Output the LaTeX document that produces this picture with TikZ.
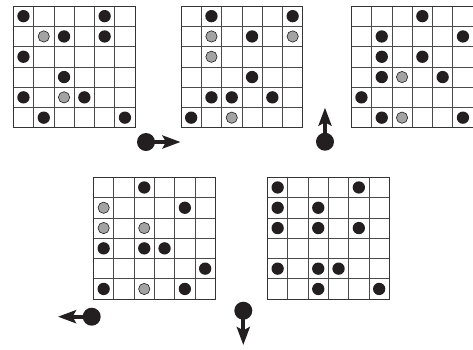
\documentclass[tikz,border=0pt]{standalone}
\usetikzlibrary{arrows.meta}
\definecolor{dotblack}{HTML}{231F20}
\definecolor{dotgray}{HTML}{A3A3A3}
\definecolor{gridcol}{HTML}{4A4A4A}
\tikzset{
  gridline/.style={draw=gridcol, line width=0.8pt},
  gridouter/.style={draw=gridcol!70!black, line width=1pt},
  bdot/.style={circle, fill=dotblack, inner sep=0pt, minimum size=12.3pt},
  gdot/.style={circle, fill=dotgray, draw=dotblack, line width=0.6pt, inner sep=0pt, minimum size=11.3pt},
  adot/.style={circle, fill=dotblack, inner sep=0pt, minimum size=18pt},
  movearrow/.style={draw=dotblack, line width=3.8pt, -{Stealth[length=18pt, width=13pt, inset=3.5pt]}, shorten <=-4pt},
}
\newcommand\boardat[3]{%
  \begin{scope}[shift={(#1pt,-#2pt)}, x=20.3pt, y=-20.3pt]
    \coordinate (#3) at (0,0);
    \foreach \ii in {1,...,5} {
      \draw[gridline] (\ii,0) -- (\ii,6);
      \draw[gridline] (0,\ii) -- (6,\ii);
    }
    \draw[gridouter] (0,0) rectangle (6,6);
  \end{scope}}
\newcommand\blackdots[3]{%
  \begin{scope}[shift={(#1pt,-#2pt)}, x=20.3pt, y=-20.3pt]
    \foreach \cc/\rr in {#3} { \node[bdot] at (\cc+0.5,\rr+0.5) {}; }
  \end{scope}}
\newcommand\graydots[3]{%
  \begin{scope}[shift={(#1pt,-#2pt)}, x=20.3pt, y=-20.3pt]
    \foreach \cc/\rr in {#3} { \node[gdot] at (\cc+0.5,\rr+0.5) {}; }
  \end{scope}}
\begin{document}
\begin{tikzpicture}[x=1pt, y=-1pt]
  \useasboundingbox (0,0) rectangle (473,349);
  \fill[white] (0,0) rectangle (473,349);
  % board 1
  \boardat{13.3}{6}{b1}
  \blackdots{13.3}{6}{0/0,4/0,2/1,4/1,0/2,2/3,0/4,3/4,1/5,5/5}
  \graydots{13.3}{6}{1/1,2/4}
  % board 2
  \boardat{181}{6}{b2}
  \blackdots{181}{6}{1/0,5/0,3/1,3/3,1/4,2/4,4/4,0/5}
  \graydots{181}{6}{1/1,5/1,1/2,2/5}
  % board 3
  \boardat{351.3}{6}{b3}
  \blackdots{351.3}{6}{3/0,1/1,5/1,1/2,3/2,1/3,4/3,0/4,1/5,5/5}
  \graydots{351.3}{6}{2/3,2/5}
  % board 4
  \boardat{93.5}{177.3}{b4}
  \blackdots{93.5}{177.3}{2/0,4/1,0/3,2/3,3/3,5/4,0/5,4/5}
  \graydots{93.5}{177.3}{0/1,0/2,2/2,2/5}
  % board 5
  \boardat{267.5}{177.3}{b5}
  \blackdots{267.5}{177.3}{0/0,4/0,0/1,2/1,0/2,2/2,4/2,0/4,2/4,3/4,2/5,5/5}
  % arrows
  \node[adot] (right) at (146,142) {};
  \coordinate (righttip) at (180.5,142);
  \draw[movearrow] (right.center) -- (righttip);
  \node[adot] (up) at (325,141.7) {};
  \coordinate (uptip) at (325,107.7);
  \draw[movearrow] (up.center) -- (uptip);
  \node[adot] (left) at (91.7,316.7) {};
  \coordinate (lefttip) at (58,316.7);
  \draw[movearrow] (left.center) -- (lefttip);
  \node[adot] (down) at (243.3,310.7) {};
  \coordinate (downtip) at (243.3,345);
  \draw[movearrow] (down.center) -- (downtip);
\end{tikzpicture}
\end{document}
